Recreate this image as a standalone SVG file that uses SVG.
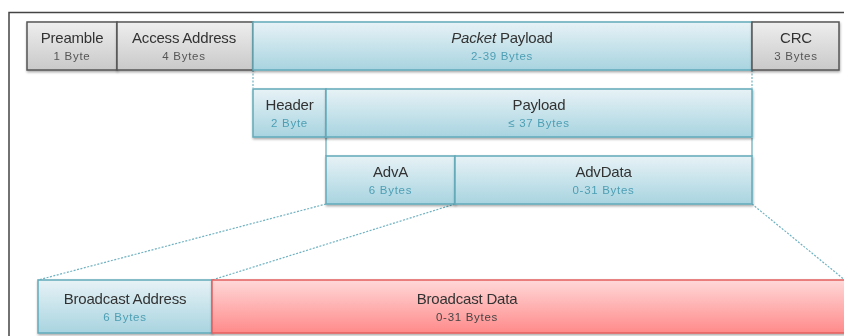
<svg xmlns="http://www.w3.org/2000/svg" width="844" height="336" viewBox="0 0 844 336">
  <defs>
    <linearGradient id="gGray" x1="0" y1="0" x2="0" y2="1">
      <stop offset="0" stop-color="#eeeeee"/>
      <stop offset="1" stop-color="#c9c9c9"/>
    </linearGradient>
    <linearGradient id="gBlue" x1="0" y1="0" x2="0" y2="1">
      <stop offset="0" stop-color="#e7f2f6"/>
      <stop offset="1" stop-color="#a8d4e0"/>
    </linearGradient>
    <linearGradient id="gRed" x1="0" y1="0" x2="0" y2="1">
      <stop offset="0" stop-color="#ffd8d8"/>
      <stop offset="1" stop-color="#ff8a8a"/>
    </linearGradient>
    <filter id="shadow" x="-5%" y="-20%" width="110%" height="150%">
      <feDropShadow dx="0.5" dy="1.5" stdDeviation="1" flood-color="#000" flood-opacity="0.35"/>
    </filter>
  </defs>
  <style>
    .gray { fill: url(#gGray); stroke: #555555; stroke-width: 1.5; }
    .blue { fill: url(#gBlue); stroke: #62aabb; stroke-width: 1.5; }
    .red { fill: url(#gRed); stroke: #e35f5f; stroke-width: 1.5; }
    .title { font-family: "Liberation Sans", Arial, sans-serif; font-size: 15px; fill: #333333; text-anchor: middle; letter-spacing: -0.2px; }
    .sub { font-family: "Liberation Sans", Arial, sans-serif; font-size: 11.5px; text-anchor: middle; letter-spacing: 0.7px; }
    .subGray { fill: #555555; }
    .subBlue { fill: #4d9fb4; }
    .subRed { fill: #444444; }
    .dash { fill: none; stroke: #6fb2c2; stroke-width: 1.2; stroke-dasharray: 2 1.5; }
    .solid { fill: none; stroke: #5fa8b8; stroke-width: 1.2; }
    .frame { fill: none; stroke: #444444; stroke-width: 1.5; }
  </style>

  <!-- outer frame -->
  <path class="frame" d="M9,336 V12.5 H844"/>

  <!-- connectors between layers -->
  <g id="connectors">
    <line class="dash" x1="253" y1="70" x2="253" y2="88"/>
    <line class="dash" x1="752" y1="70" x2="752" y2="88"/>
    <line class="solid" x1="326" y1="138" x2="326" y2="156"/>
    <line class="solid" x1="752" y1="138" x2="752" y2="156"/>
    <line class="dash" x1="326" y1="204" x2="38" y2="280"/>
    <line class="dash" x1="455" y1="204" x2="212" y2="280"/>
    <line class="dash" x1="752" y1="204" x2="846" y2="281"/>
  </g>

  <!-- row 1: link layer packet -->
  <g id="preamble" filter="url(#shadow)">
    <rect class="gray" x="27" y="22" width="90" height="48"/>
    <text class="title" x="72" y="43">Preamble</text>
    <text class="sub subGray" x="72" y="60">1 Byte</text>
  </g>
  <g id="access-address" filter="url(#shadow)">
    <rect class="gray" x="117" y="22" width="136" height="48"/>
    <text class="title" x="184" y="43">Access Address</text>
    <text class="sub subGray" x="184" y="60">4 Bytes</text>
  </g>
  <g id="packet-payload" filter="url(#shadow)">
    <rect class="blue" x="253" y="22" width="499" height="48"/>
    <text class="title" x="502" y="43"><tspan font-style="italic">Packet</tspan> Payload</text>
    <text class="sub subBlue" x="502" y="60">2-39 Bytes</text>
  </g>
  <g id="crc" filter="url(#shadow)">
    <rect class="gray" x="752" y="22" width="87" height="48"/>
    <text class="title" x="796" y="43">CRC</text>
    <text class="sub subGray" x="796" y="60">3 Bytes</text>
  </g>

  <!-- row 2: PDU -->
  <g id="header" filter="url(#shadow)">
    <rect class="blue" x="253" y="89" width="73" height="48"/>
    <text class="title" x="289.5" y="110">Header</text>
    <text class="sub subBlue" x="289.5" y="127">2 Byte</text>
  </g>
  <g id="payload" filter="url(#shadow)">
    <rect class="blue" x="326" y="89" width="426" height="48"/>
    <text class="title" x="539" y="110">Payload</text>
    <text class="sub subBlue" x="539" y="127">≤ 37 Bytes</text>
  </g>

  <!-- row 3: advertising payload -->
  <g id="adva" filter="url(#shadow)">
    <rect class="blue" x="326" y="156" width="129" height="48"/>
    <text class="title" x="390.5" y="177">AdvA</text>
    <text class="sub subBlue" x="390.5" y="194">6 Bytes</text>
  </g>
  <g id="advdata" filter="url(#shadow)">
    <rect class="blue" x="455" y="156" width="297" height="48"/>
    <text class="title" x="603.5" y="177">AdvData</text>
    <text class="sub subBlue" x="603.5" y="194">0-31 Bytes</text>
  </g>

  <!-- row 4: broadcast fields -->
  <g id="broadcast-address" filter="url(#shadow)">
    <rect class="blue" x="38" y="280" width="174" height="53"/>
    <text class="title" x="125" y="304">Broadcast Address</text>
    <text class="sub subBlue" x="125" y="321">6 Bytes</text>
  </g>
  <g id="broadcast-data" filter="url(#shadow)">
    <rect class="red" x="212" y="280" width="660" height="53"/>
    <text class="title" x="467" y="304">Broadcast Data</text>
    <text class="sub subRed" x="467" y="321">0-31 Bytes</text>
  </g>
</svg>
